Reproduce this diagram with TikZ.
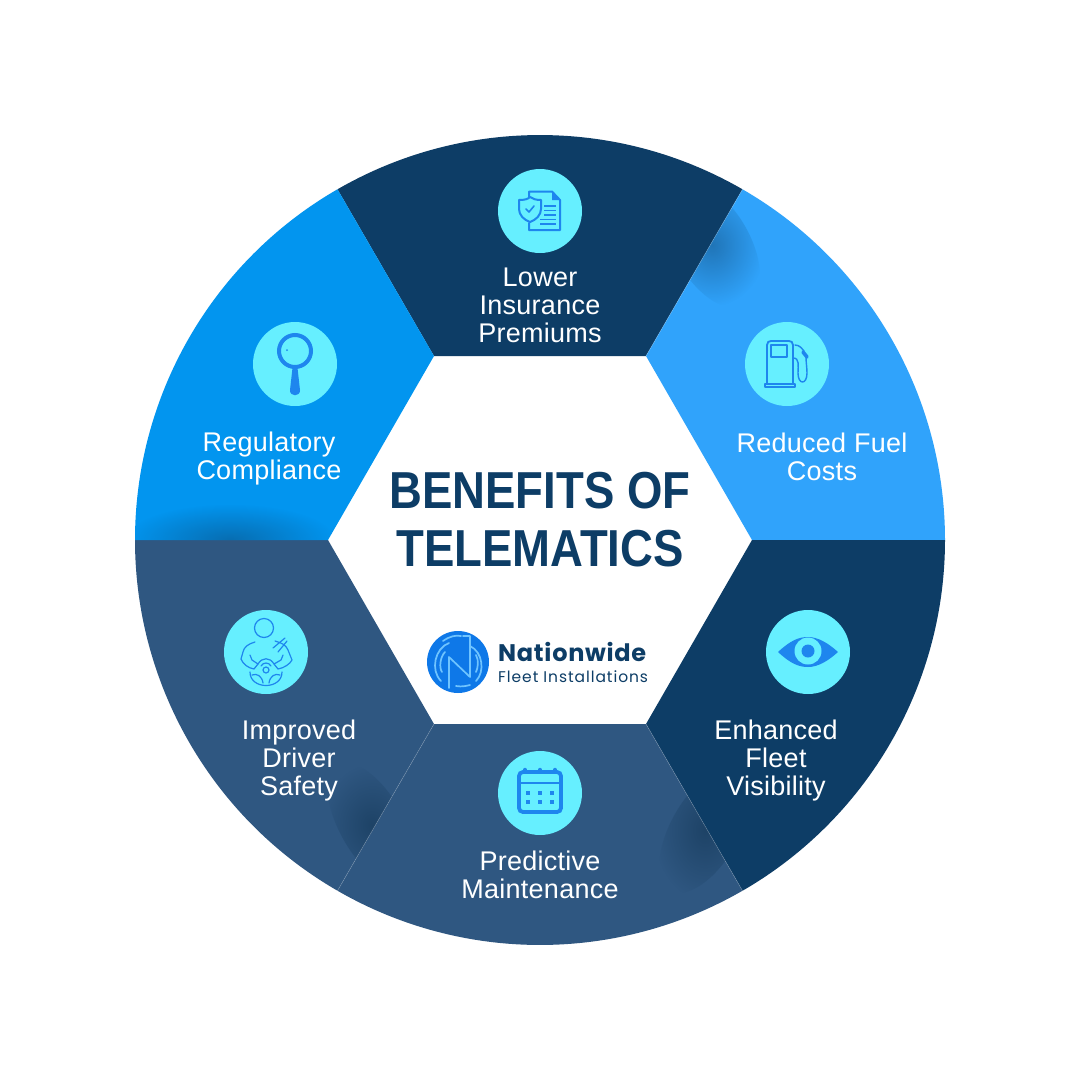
\documentclass[tikz,border=0pt]{standalone}
\usepackage{fontspec}
\setmainfont{Liberation Sans}
\newfontfamily\labelfont[LetterSpace=1]{Liberation Sans}
\newfontfamily\titlefont[FakeStretch=0.875]{Liberation Sans}
\newfontfamily\logofont[LetterSpace=3]{Poppins}
\newfontfamily\logosubfont[LetterSpace=6]{Poppins}
\usetikzlibrary{fadings}
\definecolor{navy}{HTML}{0D3D66}
\definecolor{slateblue}{HTML}{2F5781}
\definecolor{skyA}{HTML}{30A3FB}
\definecolor{skyB}{HTML}{0295EF}
\definecolor{disc}{HTML}{66EFFF}
\definecolor{ink}{HTML}{1E86EE}
\definecolor{logoblue}{HTML}{0E78E8}
\definecolor{logoline}{HTML}{6FC4FF}
\tikzfading[name=softspot,inner color=transparent!55,outer color=transparent!100]
\tikzset{
  icondisc/.style={circle,fill=disc,minimum size=84pt,inner sep=0pt},
  lab/.style={text=white,align=center,font=\labelfont\fontsize{27}{28}\selectfont,inner sep=0pt},
  ic/.style={draw=ink,line width=2pt,line cap=round,line join=round},
  icthin/.style={draw=ink,line width=1.2pt,line cap=round,line join=round},
  logoln/.style={draw=logoline,line width=1.7pt,line cap=round,line join=round},
  softshadow/.style={fill=#1,path fading=softspot},
  seam/.style={draw=white,draw opacity=0.22,line width=0.6pt}
}
\begin{document}
\begin{tikzpicture}[x=1pt,y=-1pt]
\useasboundingbox (0,0) rectangle (1080,1080);
\fill[white] (0,0) rectangle (1080,1080);
% sectors
\def\R{405}
\coordinate (c) at (540,540);
\fill[navy] (434,356) -- (337.5,189.3) arc[start angle=240,end angle=300,radius=\R] -- (646,356) -- cycle;
\fill[skyA] (646,356) -- (742.5,189.3) arc[start angle=300,end angle=360,radius=\R] -- (752,540) -- cycle;
\fill[navy] (752,540) -- (945,540) arc[start angle=0,end angle=60,radius=\R] -- (646,724) -- cycle;
\fill[slateblue] (646,724) -- (742.5,890.7) arc[start angle=60,end angle=120,radius=\R] -- (434,724) -- cycle;
\fill[slateblue] (434,724) -- (337.5,890.7) arc[start angle=120,end angle=180,radius=\R] -- (328,540) -- cycle;
\fill[skyB] (328,540) -- (135,540) arc[start angle=180,end angle=240,radius=\R] -- (434,356) -- cycle;
% soft shadows
\begin{scope}
\clip (646,356) -- (742.5,189.3) arc[start angle=300,end angle=360,radius=\R] -- (752,540) -- cycle;
\fill[softshadow=navy,rotate around={-60:(712,245)}] (712,245) ellipse[x radius=70,y radius=38];
\end{scope}
\begin{scope}
\clip (328,540) -- (135,540) arc[start angle=180,end angle=240,radius=\R] -- (434,356) -- cycle;
\fill[softshadow=navy] (230,540) ellipse[x radius=105,y radius=36];
\end{scope}
\begin{scope}
\clip (434,724) -- (337.5,890.7) arc[start angle=120,end angle=180,radius=\R] -- (328,540) -- cycle;
\fill[softshadow=navy!70!black,rotate around={-60:(372,825)}] (372,825) ellipse[x radius=70,y radius=32];
\end{scope}
\begin{scope}
\clip (646,724) -- (742.5,890.7) arc[start angle=60,end angle=120,radius=\R] -- (434,724) -- cycle;
\fill[softshadow=navy!70!black,rotate around={60:(705,830)}] (705,830) ellipse[x radius=70,y radius=34];
\end{scope}
\draw[seam] (434,724) -- (337.5,890.7);
\draw[seam] (646,724) -- (742.5,890.7);
\draw[seam] (646,356) -- (742.5,189.3);
% discs
\node[icondisc] (d1) at (540,211) {};
\node[icondisc] (d2) at (787,364) {};
\node[icondisc] (d3) at (808,652) {};
\node[icondisc] (d4) at (540,793) {};
\node[icondisc] (d5) at (266,652) {};
\node[icondisc] (d6) at (295,364) {};
% document icon
\draw[ic] (529,197) -- (529,191.5) -- (552,191.5) -- (560,200) -- (560,230) -- (529,230) -- (529,223);
\fill[ink] (552,191.5) -- (560,200) -- (552,200) -- cycle;
\draw[ic] (519,200) .. controls (525,200) and (528,199) .. (530,197) .. controls (533,199) and (536,200) .. (541,200) -- (541,209) .. controls (541,215) and (536,220) .. (530,222) .. controls (524,220) and (519,215) .. (519,209) -- cycle;
\draw[ic,line width=1.6pt] (526,209) -- (529,212) -- (534,206);
\foreach \yy/\xa in {206/544,210.5/544,215/544,219.5/540,224/540}{\draw[ink,line width=1.4pt] (\xa,\yy) -- (556,\yy);}
% fuel icon
\draw[ic,line width=1.8pt] (767,384) -- (767,345) .. controls (767,342) and (769,341) .. (771,341) -- (789,341) .. controls (791,341) and (793,342) .. (793,345) -- (793,384);
\draw[ic,line width=1.8pt] (765,384) rectangle (795,387);
\draw[ic,line width=1.6pt] (771,345) rectangle (787,357);
\draw[icthin,line width=1.4pt] (795,345) .. controls (800,345) and (802,349) .. (804,351);
\draw[ic,line width=3.6pt] (803,352) -- (807,357);
\draw[icthin,line width=1.4pt] (793,358) .. controls (800,358) and (798,366) .. (798,373) .. controls (798,385) and (807,385) .. (807,373) .. controls (807,368) and (806,362) .. (806,357);
% magnifier icon
\draw[ink,line width=4pt] (295,351) circle[radius=16];
\fill[ink] (292.5,368) -- (297.5,368) -- (300,390) .. controls (300.5,397) and (289.5,397) .. (290,390) -- cycle;
\fill[ink] (287,350) circle[radius=1];
% driver icon
\draw[icthin] (264,628) circle[radius=9.5];
\draw[icthin] (255,642) .. controls (248,644) and (244,647) .. (243,652) -- (241,659) .. controls (243,664) and (248,668) .. (254,669) -- (258,664) -- (252,660) -- (250,655);
\draw[icthin] (275,641) .. controls (282,643) and (286,645) .. (288,650) -- (292,660) .. controls (290,664) and (284,668) .. (278,669) -- (274,664) -- (281,660) -- (283,655);
\draw[icthin] (273,648) -- (285,638);
\draw[icthin] (278,652) -- (287,641);
\draw[icthin] (250,672) .. controls (250,690) and (282,690) .. (282,672);
\draw[icthin] (266,670) circle[radius=3];
\draw[icthin] (258,664) .. controls (262,657) and (270,657) .. (274,664);
\draw[icthin] (261,666) .. controls (263,662) and (269,662) .. (271,666);
\draw[icthin] (252,675) .. controls (257,673) and (262,676) .. (263,683);
\draw[icthin] (280,675) .. controls (275,673) and (270,676) .. (269,683);
% calendar icon
\draw[ink,line width=3.8pt,rounded corners=4pt] (519,772) rectangle (561,812);
\draw[ink,line width=2.4pt] (519,783) -- (561,783);
\foreach \xx in {525,540,555}{\draw[ink,line width=3.4pt,line cap=round] (\xx,769.5) -- (\xx,772);}
\foreach \xx in {528,540,552}{\foreach \yy in {793,802}{\fill[ink] (\xx-2.4,\yy-2.4) rectangle (\xx+2.4,\yy+2.4);}}
% eye icon
\fill[ink] (778,652) .. controls (790,641) and (798,637) .. (808,637) .. controls (818,637) and (828,643) .. (838,652) .. controls (828,661) and (818,667) .. (808,667) .. controls (798,667) and (790,663) .. (778,652) -- cycle;
\fill[disc] (808,651) circle[radius=13.5];
\fill[ink] (808,651) circle[radius=6.5];
% labels
\node[lab] (l1) at (540,305) {Lower\\Insurance\\Premiums};
\node[lab] (l2) at (822,457) {Reduced Fuel\\Costs};
\node[lab] (l3) at (776,761) {Enhanced\\Fleet\\Visibility};
\node[lab] (l4) at (540,875) {Predictive\\Maintenance};
\node[lab] (l5) at (299,761) {Improved\\Driver\\Safety};
\node[lab] (l6) at (269,459) {Regulatory\\Compliance};
% title
\node[text=navy,align=center,inner sep=0pt,font=\titlefont\bfseries\fontsize{52}{58}\selectfont] (title) at (540,520) {BENEFITS OF\\TELEMATICS};
% logo
\node[circle,fill=logoblue,minimum size=62pt,inner sep=0pt] (logo) at (458,662) {};
\draw[logoln] (449,688) -- (449,657) -- (470,677) -- (470,636) -- (463,636);
\draw[logoln] (470,646) .. controls (483,652) and (485,672) .. (476,681);
\draw[logoln] (476,655) .. controls (479,660) and (478,668) .. (476,672);
\draw[logoln] (449,643) .. controls (435,648) and (430,670) .. (441,681);
\draw[logoln] (445,652) .. controls (440,657) and (439,668) .. (442,672);
\draw[logoln] (443,641) .. controls (450,636) and (456,635) .. (461,636);
\draw[logoln] (456,686) .. controls (462,687) and (466,686) .. (470,685);
\node[anchor=base west,text=navy,inner sep=0pt,font=\logofont\bfseries\fontsize{24}{26}\selectfont] (brand) at (498,661) {Nationwide};
\node[anchor=base west,text=navy,inner sep=0pt,font=\logosubfont\fontsize{15.5}{18}\selectfont] (brand2) at (498,682) {Fleet Installations};
\end{tikzpicture}
\end{document}
